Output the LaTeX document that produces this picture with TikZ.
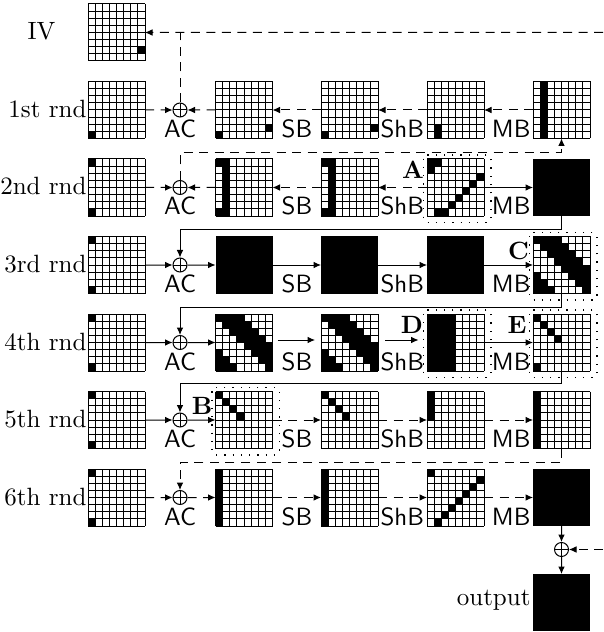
\documentclass[tikz,border=0pt]{standalone}
\usetikzlibrary{arrows.meta}
\newlength\cellsz
\setlength\cellsz{2.85pt}
% black cells (row/col, counted from the top left) and the 8x8 grid lines of a state node
\newcommand\gridcells[2]{%
  \foreach \rr/\cc in {#2}{%
    \fill ([xshift=\cc*\cellsz, yshift=-\rr*\cellsz]#1.north west) rectangle ++(\cellsz,-\cellsz);}
  \foreach \kk in {0,...,8}{%
    \draw[gl] ([xshift=\kk*\cellsz]#1.north west) -- ([xshift=\kk*\cellsz]#1.south west);
    \draw[gl] ([yshift=-\kk*\cellsz]#1.north west) -- ([yshift=-\kk*\cellsz]#1.north east);}%
}
\newcommand\bandcells[1]{\gridcells{#1}{0/0,0/1,0/2,0/3,1/1,1/2,1/3,1/4,2/2,2/3,2/4,2/5,3/3,3/4,3/5,3/6,4/4,4/5,4/6,4/7,5/5,5/6,5/7,5/0,6/6,6/7,6/0,6/1,7/7,7/0,7/1,7/2}}
\newcommand\zonebox[1]{\draw[zone] ([shift={(-3.5,-4)}]#1.north west) rectangle ([shift={(7,6.5)}]#1.south east);}
\begin{document}
\begin{tikzpicture}[x=0.4pt,y=-0.4pt,
  gl/.style={line width=0.4pt},
  cellbox/.style={rectangle, minimum size=22.8pt, inner sep=0pt, outer sep=0pt, anchor=north west},
  fullbox/.style={cellbox, fill=black},
  xorc/.style={circle, draw, line width=0.4pt, minimum size=5.6pt, inner sep=0pt,
    path picture={\draw[line width=0.4pt] (path picture bounding box.north) -- (path picture bounding box.south)
      (path picture bounding box.west) -- (path picture bounding box.east);}},
  conn/.style={line width=0.4pt, -{Latex[length=3pt,width=2.7pt]}},
  plain/.style={line width=0.4pt},
  dsh/.style={dash pattern=on 3.6pt off 2.6pt},
  opl/.style={font=\sffamily, inner sep=0pt, anchor=base},
  rowlab/.style={inner sep=0pt, anchor=base east},
  tag/.style={font=\bfseries, inner sep=0pt},
  zone/.style={line width=0.5pt, dash pattern=on 0.5pt off 2.8pt, rounded corners=1.5pt}]
\useasboundingbox (0,0) rectangle (603,632);

% ---- state nodes: key column, after AC, after SB, after ShB, after MB
\node[cellbox] (iv) at (88,4) {};
\foreach \i/\t in {1/81.5,2/159,3/236.5,4/314,5/391.5,6/469}{
  \node[cellbox] (k\i) at (88,\t) {};
  \node[xorc] (x\i) at (180,\t+28.5) {};
}
\node[cellbox] (p1) at (215.5,81.5) {};
\node[cellbox] (q1) at (321,81.5) {};
\node[cellbox] (s1) at (427,81.5) {};
\node[cellbox] (m1) at (533,81.5) {};
\node[cellbox] (p2) at (215.5,159) {};
\node[cellbox] (q2) at (321,159) {};
\node[cellbox] (s2) at (427,159) {};
\node[fullbox] (m2) at (533,159) {};
\node[fullbox] (p3) at (215.5,236.5) {};
\node[fullbox] (q3) at (321,236.5) {};
\node[fullbox] (s3) at (427,236.5) {};
\node[cellbox] (m3) at (533,236.5) {};
\node[cellbox] (p4) at (215.5,314) {};
\node[cellbox] (q4) at (321,314) {};
\node[cellbox] (s4) at (427,314) {};
\node[cellbox] (m4) at (533,314) {};
\node[cellbox] (p5) at (215.5,391.5) {};
\node[cellbox] (q5) at (321,391.5) {};
\node[cellbox] (s5) at (427,391.5) {};
\node[cellbox] (m5) at (533,391.5) {};
\node[cellbox] (p6) at (215.5,469) {};
\node[cellbox] (q6) at (321,469) {};
\node[cellbox] (s6) at (427,469) {};
\node[fullbox] (m6) at (533,469) {};
\node[xorc] (xo) at (561.5,549.5) {};
\node[fullbox] (out) at (533,574) {};

% ---- cell patterns
\gridcells{iv}{6/7}
\gridcells{k1}{7/0}
\foreach \i in {2,...,6}{\gridcells{k\i}{0/0,7/0}}
\gridcells{p1}{6/7,7/0}
\gridcells{q1}{6/7,7/0}
\gridcells{s1}{6/1,7/1}
\gridcells{m1}{0/1,1/1,2/1,3/1,4/1,5/1,6/1,7/1}
\gridcells{p2}{0/0,7/0,0/1,1/1,2/1,3/1,4/1,5/1,6/1,7/1}
\gridcells{q2}{0/0,7/0,0/1,1/1,2/1,3/1,4/1,5/1,6/1,7/1}
\gridcells{s2}{0/0,0/1,1/0,2/7,3/6,4/5,5/4,6/3,7/2,7/1}
\bandcells{m3}
\bandcells{p4}
\bandcells{q4}
\fill (s4.north west) rectangle ([xshift=4*\cellsz]s4.south west);
\gridcells{s4}{0/0}
\gridcells{m4}{0/0,1/1,2/2,3/3,7/0}
\gridcells{p5}{0/0,1/1,2/2,3/3}
\gridcells{q5}{0/0,1/1,2/2,3/3}
\gridcells{s5}{0/0,1/0,2/0,3/0}
\gridcells{m5}{0/0,1/0,2/0,3/0,4/0,5/0,6/0,7/0}
\gridcells{p6}{0/0,1/0,2/0,3/0,4/0,5/0,6/0,7/0}
\gridcells{q6}{0/0,1/0,2/0,3/0,4/0,5/0,6/0,7/0}
\gridcells{s6}{0/0,1/7,2/6,3/5,4/4,5/3,6/2,7/1}

% ---- dotted zones
\zonebox{s2}
\zonebox{m3}
\zonebox{s4}
\zonebox{m4}
\zonebox{p5}

% ---- connectors
\coordinate (ivfeed) at (603,32.5);
\draw[dsh,conn] (ivfeed) -- (iv);
\draw[dsh,plain] (x1) -- (x1 |- iv);
% round 1 (backward)
\draw[dsh,conn] (k1) -- (x1);
\draw[dsh,conn] (p1) -- (x1);
\draw[dsh,conn] (q1) -- (p1);
\draw[dsh,conn] (s1) -- (q1);
\draw[dsh,conn] (m1) -- (s1);
\draw[dsh,conn] (x2.north) -- ++(0,-27.5) -| (m1.south);
% round 2
\draw[dsh,conn] (k2) -- (x2);
\draw[dsh,conn] (p2) -- (x2);
\draw[dsh,conn] (q2) -- (p2);
\draw[dsh,conn] (s2) -- (q2);
\draw[conn] (s2) -- (m2);
\draw[conn] (m2.south) -- ++(0,13) -| (x3.north);
% round 3
\draw[conn] (k3) -- (x3);
\draw[conn] (x3) -- (p3);
\draw[conn] (p3) -- (q3);
\draw[conn] (q3) -- (s3);
\draw[conn] (s3) -- (m3);
\draw[conn] (m3.south) -- ++(0,13.5) -| (x4.north);
% round 4
\draw[conn] (k4) -- (x4);
\draw[conn] (x4) -- (p4);
\draw[conn, shorten <=2pt, shorten >=2.4pt] ([yshift=1pt]p4.east) -- ([yshift=1pt]q4.west);
\draw[conn, shorten <=2.8pt, shorten >=3.4pt] ([yshift=1pt]q4.east) -- ([yshift=1pt]s4.west);
\draw[conn] (s4) -- (m4);
\draw[conn] (m4.south) -- ++(0,12.5) -| (x5.north);
% round 5
\draw[conn] (k5) -- (x5);
\draw[conn] (x5) -- (p5);
\draw[dsh,conn] (p5) -- (q5);
\draw[dsh,conn] (q5) -- (s5);
\draw[dsh,conn] (s5) -- (m5);
\draw[dsh,conn] (m5.south) -- ++(0,14) -| (x6.north);
% round 6
\draw[dsh,conn] (k6) -- (x6);
\draw[dsh,conn] (x6) -- (p6);
\draw[dsh,conn] (p6) -- (q6);
\draw[dsh,conn] (q6) -- (s6);
\draw[dsh,conn] (s6) -- (m6);
\draw[conn] (m6) -- (xo);
\draw[conn] (xo) -- (out);
\coordinate (outfeed) at (603,549.5);
\draw[dsh,conn] (outfeed) -- (xo);

% ---- operation labels
\foreach \i/\b in {1/137.5,2/215,3/292.5,4/370,5/447.5,6/525}{
  \node[opl] (ac\i) at (180,\b) {AC};
  \node[opl] (sb\i) at (297,\b) {SB};
  \node[opl, anchor=base west] (shb\i) at (380,\b) {ShB};
  \node[opl, anchor=base east] (mb\i) at (531,\b) {MB};
}

% ---- row labels
\node[inner sep=0pt, anchor=base] (livl) at (41.5,40) {IV};
\node[rowlab] (l1) at (87,117.5) {1st rnd};
\node[rowlab] (l2) at (87,195) {2nd rnd};
\node[rowlab] (l3) at (87,272.5) {3rd rnd};
\node[rowlab] (l4) at (87,350) {4th rnd};
\node[rowlab] (l5) at (87,427.5) {5th rnd};
\node[rowlab] (l6) at (87,505) {6th rnd};
\node[rowlab] (lout) at (531,605) {output};

% ---- zone tags
\node[tag] (tA) at (413,170) {A};
\node[tag] (tB) at (202,406) {B};
\node[tag] (tC) at (518.5,250.5) {C};
\node[tag] (tD) at (412,325) {D};
\node[tag] (tE) at (517,325) {E};
\end{tikzpicture}
\end{document}
